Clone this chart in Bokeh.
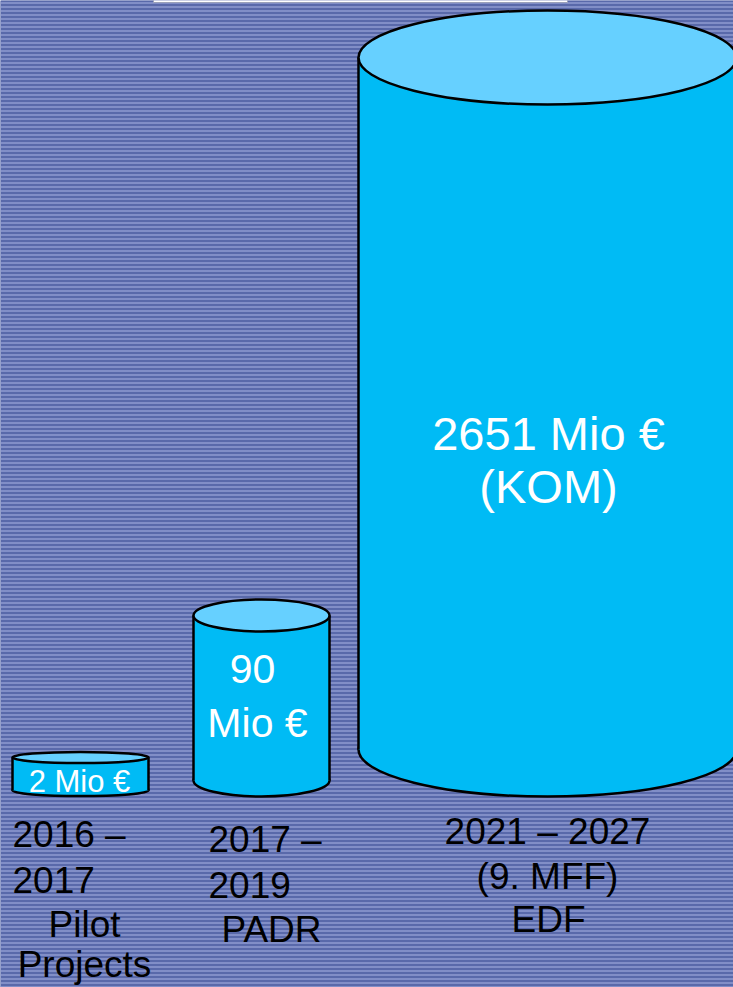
from bokeh.plotting import figure
from bokeh.models import Range1d, BoxAnnotation, ColumnDataSource
from bokeh.core.properties import value
from bokeh.embed import file_html
from bokeh.resources import INLINE

# ---------------- data ----------------
periods = ["2016 –\n2017", "2017 –\n2019", "2021 – 2027\n(9. MFF)"]
programmes = ["Pilot\nProjects", "PADR", "EDF"]
budget_mio = [2, 90, 2651]
budget_labels = ["2 Mio €", "90\nMio €", "2651 Mio €\n(KOM)"]

# ---------------- layout (reference pixel space) ----------------
W, H = 733, 987
cyl_cx = [80, 261, 547]
cyl_rx = [68, 68, 189]
cyl_top = [757, 615, 57]
cyl_bot = [790, 780, 749]
cyl_ry = [5.5, 16, 47]

# label line positions: (x, baseline, align)
period_pos = [
    [(12, 848, "left"), (12, 893, "left"), (84, 938, "center"), (84, 978, "center")],
    [(208, 853, "left"), (208, 898, "left"), (271, 943, "center")],
    [(547, 845, "center"), (547, 890, "center"), (548, 933, "center")],
]
period_shift = 14
budget_pos = [
    [(79, 793)],
    [(252, 683), (257, 737)],
    [(548, 447), (548, 500)],
]
budget_size = ["31px", "41px", "47px"]
budget_shift = [12, 15, 14]

BODY = "#00BBF5"
TOP = "#66D0FF"
BG = "#5969aa"

p = figure(width=W, height=H, x_range=Range1d(0, W), y_range=Range1d(H, 0),
           output_backend="svg", toolbar_location=None, min_border=0)
p.axis.visible = False
p.grid.visible = False
p.outline_line_color = None
p.background_fill_color = BG
p.border_fill_color = BG

p.add_layout(BoxAnnotation(fill_color=BG, fill_alpha=1.0, line_color=None,
                           hatch_pattern="horizontal_line", hatch_color="#98a4d8",
                           hatch_scale=4, hatch_weight=1.4, hatch_alpha=0.9,
                           level="underlay"))

# white box at top
p.quad(left=[153], right=[567], top=[-10], bottom=[2], fill_color="white",
       line_color="#9aa0b8", line_width=1)

cyl = ColumnDataSource(dict(
    cx=cyl_cx, w=[2 * r for r in cyl_rx], top=cyl_top, bot=cyl_bot,
    h=[2 * r for r in cyl_ry],
    left=[c - r for c, r in zip(cyl_cx, cyl_rx)],
    right=[c + r for c, r in zip(cyl_cx, cyl_rx)],
    value=budget_mio,
))

LW = 2.5
p.ellipse(x="cx", y="bot", width="w", height="h", source=cyl,
          fill_color=BODY, line_color="black", line_width=LW)
p.quad(left="left", right="right", top="top", bottom="bot", source=cyl,
       fill_color=BODY, line_color=None)
p.segment(x0="left", y0="top", x1="left", y1="bot", source=cyl,
          line_color="black", line_width=LW)
p.segment(x0="right", y0="top", x1="right", y1="bot", source=cyl,
          line_color="black", line_width=LW)
p.ellipse(x="cx", y="top", width="w", height="h", source=cyl,
          fill_color=TOP, line_color="black", line_width=LW)

# texts
tx, ty, tt, ta, ts, tc = [], [], [], [], [], []
for i in range(3):
    lines = periods[i].split("\n") + programmes[i].split("\n")
    for line, (x, y, al) in zip(lines, period_pos[i]):
        tx.append(x); ty.append(y - period_shift); tt.append(line); ta.append(al)
        ts.append("37px"); tc.append("black")
    for line, (x, y) in zip(budget_labels[i].split("\n"), budget_pos[i]):
        tx.append(x); ty.append(y - budget_shift[i]); tt.append(line); ta.append("center")
        ts.append(budget_size[i]); tc.append("white")

src = ColumnDataSource(dict(x=tx, y=ty, text=tt, align=ta, size=ts, color=tc))
p.text(x="x", y="y", text="text", source=src, text_align="align",
       text_baseline="alphabetic", text_font_size="size", text_color="color",
       text_font=value("Liberation Sans"))

open("out.html", "w").write(file_html(p, INLINE))
